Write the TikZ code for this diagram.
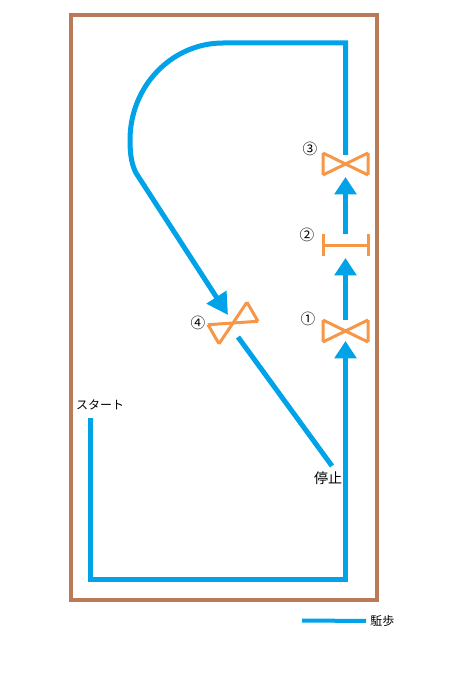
\documentclass[tikz,border=0pt]{standalone}
\usepackage{fontspec}
\newfontfamily\jpfont{Noto Sans CJK JP}
\usetikzlibrary{arrows.meta, calc}

\definecolor{walkblue}{RGB}{0,162,232}
\definecolor{fencebrown}{RGB}{185,122,87}
\definecolor{gateorange}{RGB}{247,150,70}

\tikzset{
  cross gate/.pic={
    \draw[gateorange,line width=2.25pt]
      (-22.5,-11) -- (22.5,11) (-22.5,11) -- (22.5,-11)
      (-22.5,-11) -- (-22.5,11) (22.5,-11) -- (22.5,11);},
  bar gate/.pic={
    \draw[gateorange,line width=2.25pt]
      (-22.5,0) -- (22.5,0)
      (-22.5,-11) -- (-22.5,11) (22.5,-11) -- (22.5,11);}
}

\begin{document}
\begin{tikzpicture}[x=0.75pt,y=-0.75pt,
                    route/.style={draw=walkblue,line width=3.75pt},
                    go/.style={route,-{Triangle[length=13pt,width=16pt]}},
                    bigo/.style={route,-{Triangle[length=16pt,width=17pt]}},
                    num/.style={font=\jpfont\fontsize{11}{12}\selectfont}]
   \tikzstyle{every node}=[font=\jpfont\fontsize{9}{10}\selectfont,inner sep=0pt]
   \useasboundingbox (0,0) rectangle (450,677);

   % arena
   \draw[fencebrown,line width=3pt] (71,15) rectangle (377,600);

   % route points
   \coordinate (start) at (90.5,418);
   \coordinate (sw)    at (90.5,579.5);
   \coordinate (se)    at (345.5,579.5);
   \coordinate (g1)    at (345.5,331);
   \coordinate (g2)    at (345.5,245);
   \coordinate (g3)    at (345.5,164);
   \coordinate (ne)    at (345.5,43);
   \coordinate (top)   at (223,43);
   \coordinate (west)  at (130,140);
   \coordinate (g4)    at (233,323);
   \coordinate (stop)  at (332,466);

   % gates
   \pic at (g1) {cross gate};
   \pic at (g2) {bar gate};
   \pic at (g3) {cross gate};
   \pic[rotate=30] at (g4) {cross gate};

   % route
   \draw[go] (start) -- (sw) -- (se) -- ($(g1)+(0,10)$);
   \draw[go] ($(g1)+(0,-11)$) -- ($(g2)+(0,13)$);
   \draw[go] ($(g2)+(0,-11)$) -- ($(g3)+(0,13)$);
   \draw[bigo] ($(g3)+(0,-9)$) -- (ne) -- (top)
        .. controls (172,43) and (130,86) .. (west)
        .. controls (130,156) and (132,165) .. (136,173)
        -- ($(g4)+(-5,-8)$);
   \draw[route] ($(g4)+(5,14)$) -- (stop);

   % labels
   \node[num] (n1) at (308,319) {①};
   \node[num] (n2) at (307,235) {②};
   \node[num] (n3) at (310,149) {③};
   \node[num] (n4) at (198,323) {④};
   \node (startlabel) at (100,405) {スタート};
   \node (stoplabel) at (328,478) [font=\jpfont\fontsize{10.5}{12}\selectfont] {停止};

   % legend
   \coordinate (legstart) at (302,620.5);
   \node (legend) [anchor=west] at (370,621) {駈歩};
   \draw[route,line width=3pt,shorten >=3pt] (legstart) -- (legend.west);
\end{tikzpicture}
\end{document}
